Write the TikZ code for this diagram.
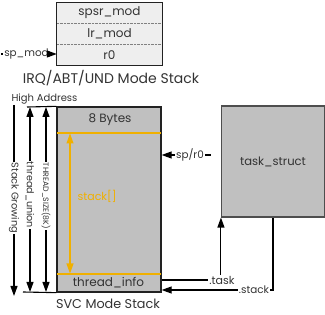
\documentclass[tikz,border=0pt]{standalone}
\usepackage{fontspec}
\setmainfont{Poppins}
\usetikzlibrary{arrows.meta}
\definecolor{ink}{HTML}{333333}
\definecolor{edge}{HTML}{222222}
\definecolor{boxgray}{HTML}{C0C0C0}
\definecolor{lightbox}{HTML}{EEEEEE}
\definecolor{amber}{HTML}{F0B000}
\begin{document}
\begin{tikzpicture}[x=1pt,y=-1pt,
  txt/.style={text=ink,inner sep=1pt},
  big/.style={txt,font=\fontsize{12.8}{14}\selectfont},
  mid/.style={txt,font=\fontsize{12}{14}\selectfont},
  small/.style={txt,font=\fontsize{10.4}{12}\selectfont},
  modecell/.style={mid,minimum width=105pt,minimum height=21pt,fill=lightbox,inner sep=0pt},
  wire/.style={draw=black,line width=1.1pt},
  tip/.style={-{Triangle[length=10pt,width=7pt]}},
  bothtips/.style={{Triangle[length=10pt,width=7pt]}-{Triangle[length=10pt,width=7pt]}},
  sidelbl/.style={rotate=-90,fill=white,inner sep=1pt,text=ink}]
\useasboundingbox (0,0) rectangle (325,315);

% IRQ/ABT/UND mode stack
\node[modecell] (spsr) at (109.5,13) {spsr\_mod};
\node[modecell] (lr) at (109.5,34) {lr\_mod};
\node[modecell] (r0) at (109.5,55) {r0};
\draw[densely dotted,gray] (spsr.south west) -- (spsr.south east);
\draw[densely dotted,gray] (lr.south west) -- (lr.south east);
\draw[edge,line width=1.3pt] (spsr.north west) rectangle (r0.south east);
\node[txt,font=\fontsize{14}{16}\selectfont] (irq) at (111,78) {IRQ/ABT/UND Mode Stack};

\node[small] (spmod) at (26.5,54) {sp\_mod};
\coordinate (spmodL) at (1,54);
\draw[wire] (spmodL) -- (spmod.west);
\draw[wire,tip] (spmod.east) -- (r0.west |- spmod.east);

% SVC mode stack
\node[draw=edge,line width=1.3pt,fill=boxgray,minimum width=104pt,minimum height=185pt,inner sep=0pt] (svc) at (109,199.5) {};
\coordinate (ytopL) at (57,133);
\coordinate (ytopR) at (161,133);
\coordinate (ybotL) at (57,274);
\coordinate (ybotR) at (161,274);
\draw[amber,line width=1.1pt] (ytopL) -- (ytopR);
\draw[amber,line width=1.1pt] (ybotL) -- (ybotR);
\coordinate (yarrT) at (70,133.5);
\coordinate (yarrB) at (70,273.5);
\draw[amber,line width=1.1pt,bothtips] (yarrB) -- (yarrT);
\node[mid] (bytes) at (110,120) {8 Bytes};
\node[mid] (tinfo) at (108.5,283) {thread\_info};
\node[mid,text=amber,font=\fontsize{11}{13}\selectfont] (stk) at (97,196) {stack[]};
\node[big] (svclbl) at (108,304) {SVC Mode Stack};

% address markers on the left
\node[txt,font=\fontsize{10}{12}\selectfont] (high) at (44.5,99) {High Address};
\coordinate (topL) at (27,107);
\coordinate (botL) at (23,292);
\draw[wire] (topL) -- (svc.north west);
\draw[wire] (botL) -- (svc.south west);

\coordinate (sgT) at (14,105);
\coordinate (sgB) at (14,296);
\draw[wire,tip] (sgT) -- (sgB);
\node[sidelbl,font=\fontsize{9.8}{11}\selectfont] (sg) at (14,198) {Stack Growing};

\coordinate (tuT) at (30,107);
\coordinate (tuB) at (30,292);
\draw[wire,bothtips] (tuT) -- (tuB);
\node[sidelbl,font=\fontsize{9.6}{11}\selectfont] (tu) at (30,195) {thread\_union};

\coordinate (tsT) at (46,107);
\coordinate (tsB) at (46,292);
\draw[wire,bothtips] (tsT) -- (tsB);
\node[sidelbl,font=\fontsize{7.8}{9}\selectfont] (tsz) at (46,196) {THREAD\_SIZE(8K)};

% task_struct and links
\node[draw=edge!80,line width=1.1pt,fill=boxgray,minimum width=103pt,minimum height=111pt,txt,font=\fontsize{11.6}{13}\selectfont] (task) at (273,161.5) {task\_struct};

\node[small] (spr0) at (190,155) {sp/r0};
\coordinate (spr0R) at (211,155);
\draw[wire] (spr0R) -- (spr0.east);
\draw[wire,tip] (spr0.west) -- (svc.east |- spr0.west);

\node[txt,font=\fontsize{11}{12}\selectfont] (tk) at (222,280) {.task};
\draw[wire] (svc.east |- tk.west) -- (tk.west);
\draw[wire,tip] (tk.north -| task.south west) -- (task.south west);

\node[small] (sk) at (254,290) {.stack};
\draw[wire] (sk.east) -| (task.south);
\draw[wire,tip] (sk.west) -- (svc.east |- sk.west);
\end{tikzpicture}
\end{document}
